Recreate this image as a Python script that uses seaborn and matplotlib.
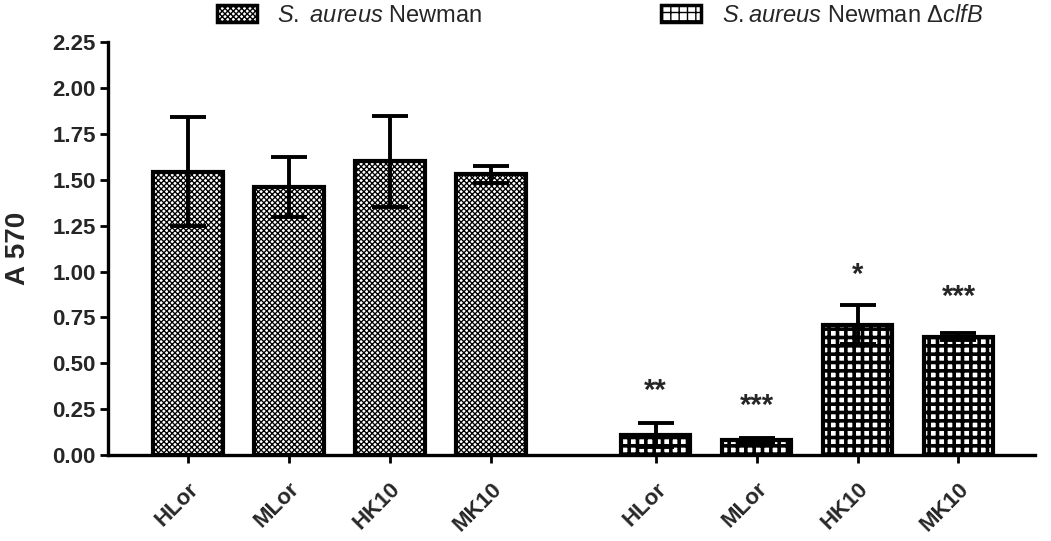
import matplotlib
matplotlib.use("Agg")
import matplotlib.pyplot as plt
import seaborn as sns
import pandas as pd
from matplotlib.patches import Patch

# ---- data ----
categories = ["HLor", "MLor", "HK10", "MK10", "HLor", "MLor", "HK10", "MK10"]
groups = ["S. aureus Newman"] * 4 + ["S.aureus Newman ΔclfB"] * 4
positions = [0, 1, 2, 3, 4.63, 5.63, 6.63, 7.63]
means = [1.545, 1.46, 1.60, 1.53, 0.11, 0.08, 0.71, 0.645]
errors = [0.295, 0.165, 0.25, 0.045, 0.065, 0.015, 0.105, 0.02]
stars = ["", "", "", "", "**", "***", "*", "***"]
star_y = [0, 0, 0, 0, 0.35, 0.27, 0.98, 0.86]
yticks = [0.00, 0.25, 0.50, 0.75, 1.00, 1.25, 1.50, 1.75, 2.00, 2.25]
legend_labels = [r"$\it{S.\ aureus}$ Newman", r"$\it{S.aureus}$ Newman Δ$\it{clfB}$"]

sns.set_theme(style="ticks")
plt.rcParams["font.family"] = ["Liberation Sans", "DejaVu Sans"]
plt.rcParams["mathtext.fontset"] = "custom"
plt.rcParams["mathtext.it"] = "Liberation Sans:italic"
plt.rcParams["mathtext.rm"] = "Liberation Sans"
plt.rcParams["hatch.color"] = "black"

styles = {
    "S. aureus Newman": dict(face="white", hatch="xxxxxx", hlw=0.95),
    "S.aureus Newman ΔclfB": dict(face="white", hatch="++", hlw=2.6),
}

df = pd.DataFrame({"pos": positions, "val": means, "grp": groups})

fig = plt.figure(figsize=(10.51, 5.41), dpi=100)
ax = fig.add_axes([0.103, 0.159, 0.882, 0.763])

sns.barplot(data=df, x="pos", y="val", hue="grp", native_scale=True,
            palette=["white", "white"], width=0.69, errorbar=None,
            edgecolor="black", linewidth=3.0, legend=False, ax=ax)


def style_patch(p, st):
    p.set_facecolor(st["face"])
    p.set_hatch(st["hatch"])
    if hasattr(p, "set_hatch_linewidth"):
        p.set_hatch_linewidth(st["hlw"])
    else:
        p._hatch_linewidth = st["hlw"]


bars = sorted(list(ax.patches), key=lambda p: p.get_x())
for p, g in zip(bars, groups):
    style_patch(p, styles[g])

ax.errorbar(positions, means, yerr=errors, fmt="none", ecolor="black",
            elinewidth=2.8, capsize=13, capthick=2.8, zorder=5)

for x, s, y in zip(positions, stars, star_y):
    if s:
        ax.text(x, y, s, ha="center", va="center", fontsize=21, fontweight="bold")

ax.set_xlim(-0.79, 8.39)
ax.set_ylim(0, 2.25)
ax.set_yticks(yticks)
ax.set_yticklabels([f"{v:.2f}" for v in yticks], fontsize=16, fontweight="bold")
ax.set_xticks(positions)
ax.set_xticklabels(categories, rotation=45, ha="right", va="top",
                   rotation_mode="anchor", fontsize=16, fontweight="bold")
ax.set_xlabel("")
ax.set_ylabel("A 570", fontsize=20, fontweight="bold")
ax.yaxis.set_label_coords(-0.083, 0.5)
for s in ["top", "right"]:
    ax.spines[s].set_visible(False)
for s in ["left", "bottom"]:
    ax.spines[s].set_linewidth(2.4)
    ax.spines[s].set_color("black")
ax.tick_params(axis="both", length=6, width=2, color="black")
ax.tick_params(axis="y", pad=3)
ax.tick_params(axis="x", pad=11)

anchors = [(0.186, 1.03), (0.609, 1.03)]
for g, lab, anc in zip(styles, legend_labels, anchors):
    h = Patch(edgecolor="black", linewidth=2.5)
    style_patch(h, styles[g])
    fig.legend([h], [lab], loc="upper left", bbox_to_anchor=anc, frameon=False,
               fontsize=17, handlelength=1.7, handleheight=0.7, handletextpad=0.85)

fig.savefig("out.png", dpi=100, facecolor="white")
